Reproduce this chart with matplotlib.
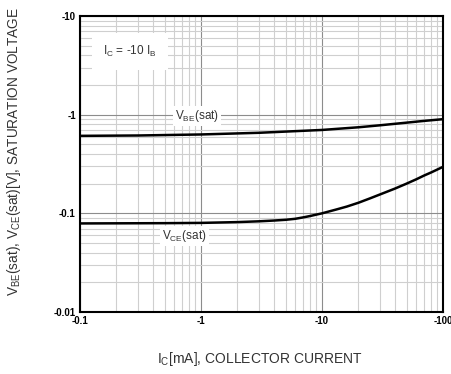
import matplotlib
matplotlib.use("Agg")
import matplotlib.pyplot as plt
from matplotlib.ticker import FixedLocator, LogLocator, NullFormatter

plt.rcParams['font.family'] = ['Liberation Sans', 'DejaVu Sans']
plt.rcParams['mathtext.fontset'] = 'custom'
plt.rcParams['mathtext.rm'] = 'Liberation Sans'

# data (magnitudes; plotted as |Ic| and |V|)
ic_vbe = [0.1, 0.3, 1, 3, 10, 20, 30, 50, 70, 100]
vbe = [0.61, 0.615, 0.63, 0.655, 0.70, 0.745, 0.78, 0.83, 0.865, 0.90]
ic_vce = [0.1, 0.5, 1, 2, 3, 4, 5, 6, 7, 8, 10, 13, 16, 20, 25, 30, 40, 50, 60, 70, 80, 100]
vce = [0.079, 0.0795, 0.080, 0.0815, 0.083, 0.0845, 0.086, 0.088, 0.091, 0.094, 0.100,
       0.109, 0.117, 0.128, 0.142, 0.155, 0.178, 0.200, 0.221, 0.242, 0.260, 0.296]

xticks = [0.1, 1, 10, 100]
xticklabels = ['-0.1', '-1', '-10', '-100']
yticks = [0.01, 0.1, 1, 10]
yticklabels = ['-0.01', '-0.1', '-1', '-10']

fig = plt.figure(figsize=(4.51, 3.74), dpi=100)
ax = fig.add_axes([80/451, 1-312/374, 363/451, 296/374])
ax.set_xscale('log'); ax.set_yscale('log')
ax.set_xlim(0.1, 100); ax.set_ylim(0.01, 10)

ax.plot(ic_vbe, vbe, color='black', lw=1.8)
ax.plot(ic_vce, vce, color='black', lw=1.8)

ax.xaxis.set_major_locator(FixedLocator(xticks))
ax.yaxis.set_major_locator(FixedLocator(yticks))
ax.xaxis.set_minor_locator(LogLocator(base=10, subs=range(2, 10)))
ax.yaxis.set_minor_locator(LogLocator(base=10, subs=range(2, 10)))
ax.xaxis.set_minor_formatter(NullFormatter())
ax.yaxis.set_minor_formatter(NullFormatter())
ax.set_xticklabels(xticklabels, fontsize=7, fontweight='bold')
ax.set_yticklabels(yticklabels, fontsize=7, fontweight='bold')
ax.tick_params(which='both', length=0, pad=3)
ax.grid(which='major', color='#8c8c8c', lw=0.8)
ax.grid(which='minor', color='#cfcfcf', lw=0.8)
for s in ax.spines.values():
    s.set_linewidth(1.5)

bbox = dict(facecolor='white', edgecolor='none', pad=1.5)
ax.text(0.155, 4.4, r'I$_{\rm C}$ = -10 I$_{\rm B}$', fontsize=8.5, color='#333333',
        ha='left', va='center', bbox=dict(facecolor='white', edgecolor='none', pad=8))
ax.text(0.61, 0.97, r'V$_{\rm BE}$(sat)', fontsize=8.5, color='#333333',
        ha='left', va='center', bbox=bbox)
ax.text(0.476, 0.059, r'V$_{\rm CE}$(sat)', fontsize=8.5, color='#333333',
        ha='left', va='center', bbox=bbox)

fig.text(14/451, 1-152/374, r'V$_{\rm BE}$(sat), V$_{\rm CE}$(sat)[V], SATURATION VOLTAGE',
         rotation=90, fontsize=9.8, color='#333333', ha='center', va='center')
fig.text(260/451, 1-359/374, r'I$_{\rm C}$[mA], COLLECTOR CURRENT',
         fontsize=10, color='#333333', ha='center', va='center')

fig.savefig('out.png', dpi=100)
